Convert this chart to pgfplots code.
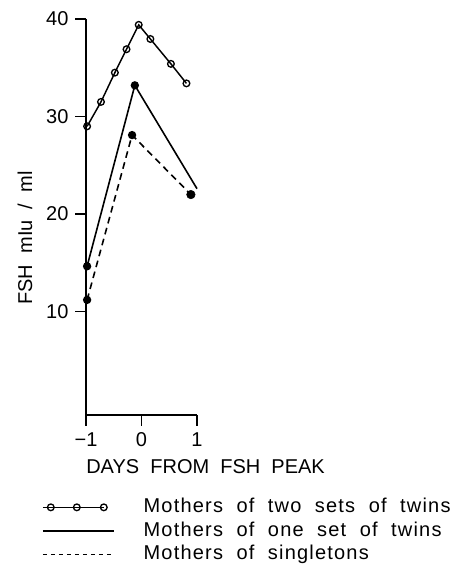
\documentclass[border=0pt]{standalone}
\usepackage{fontspec}
\setmainfont{Liberation Sans}[WordSpace=2]
\newfontfamily\legfont{Liberation Sans}[WordSpace=2,LetterSpace=6]
\usepackage{pgfplots}
\pgfplotsset{compat=1.18}
\begin{document}
\fontsize{15pt}{18pt}\selectfont
\begin{tikzpicture}
\useasboundingbox (0,0) rectangle (351pt,423.75pt);
\begin{axis}[
  at={(64.5pt,112.5pt)}, anchor=south west,
  scale only axis, width=83.25pt, height=297pt,
  xmin=-1, xmax=1, ymin=-0.6, ymax=40,
  axis x line=bottom, axis y line=left,
  axis line style={-, line width=1.6pt},
  xtick={-1,0,1}, xticklabels={\char"2212 1,0,1},
  ytick={10,20,30,40}, yticklabels={10,20,30,40},
  tick align=outside, major tick length=8pt,
  tick style={line width=1.2pt, black},
  /pgf/number format/assume math mode=true,
  clip=false,
  xlabel={DAYS FROM FSH PEAK},
  ylabel={FSH mIu / ml},
  xlabel style={at={(axis description cs:0,-0.1313)}, anchor=west, inner sep=0pt},
  ylabel style={at={(axis description cs:-0.5495,0.447)}, anchor=center, inner sep=0pt},
  legend cell align=left,
  legend style={draw=none, fill=none, at={(axis description cs:-0.3964,-0.2096)}, anchor=north west,
    inner sep=0pt, outer sep=0pt, row sep=3.6pt,
    nodes={inner sep=0pt, text height=11pt, text depth=3pt, font=\legfont},
    /tikz/every odd column/.append style={column sep=21.75pt}},
]
\addplot[black, line width=1.1pt, mark=o, mark size=2.5pt, mark options={fill=white, solid, line width=1pt},
  legend image code/.code={\draw[black, line width=1.1pt, mark=o, mark size=2.5pt, mark options={fill=white, line width=1pt}, mark repeat=1, mark phase=2] plot coordinates {(0pt,0pt) (6pt,0pt) (25.5pt,0pt) (45.75pt,0pt)};}]
  coordinates {(-0.98,29.0) (-0.73,31.5) (-0.48,34.5) (-0.27,36.9) (-0.05,39.4) (0.16,37.95) (0.53,35.4) (0.81,33.4)};
\addlegendentry{Mothers of two sets of twins}
\addplot[black, line width=1.2pt, mark=*, mark size=2.5pt, mark indices={1,2},
  legend image code/.code={\draw[black, line width=1.2pt] (0pt,0pt) -- (53.25pt,0pt);}]
  coordinates {(-0.98,14.65) (-0.12,33.2) (1.0,22.6)};
\addlegendentry{Mothers of one set of twins}
\addplot[black, line width=1.2pt, dash pattern=on 5pt off 3.5pt, mark=*, mark size=2.5pt, mark indices={1,2}, mark options={solid},
  legend image code/.code={\draw[black, line width=1.1pt, dash pattern=on 3.5pt off 2.5pt] (0pt,0pt) -- (53.25pt,0pt);}]
  coordinates {(-0.98,11.2) (-0.17,28.1) (0.89,22.0)};
\addlegendentry{Mothers of singletons}
\addplot[black, only marks, mark=*, mark size=3.2pt, forget plot] coordinates {(0.89,22.0)};
\end{axis}
\end{tikzpicture}
\end{document}
